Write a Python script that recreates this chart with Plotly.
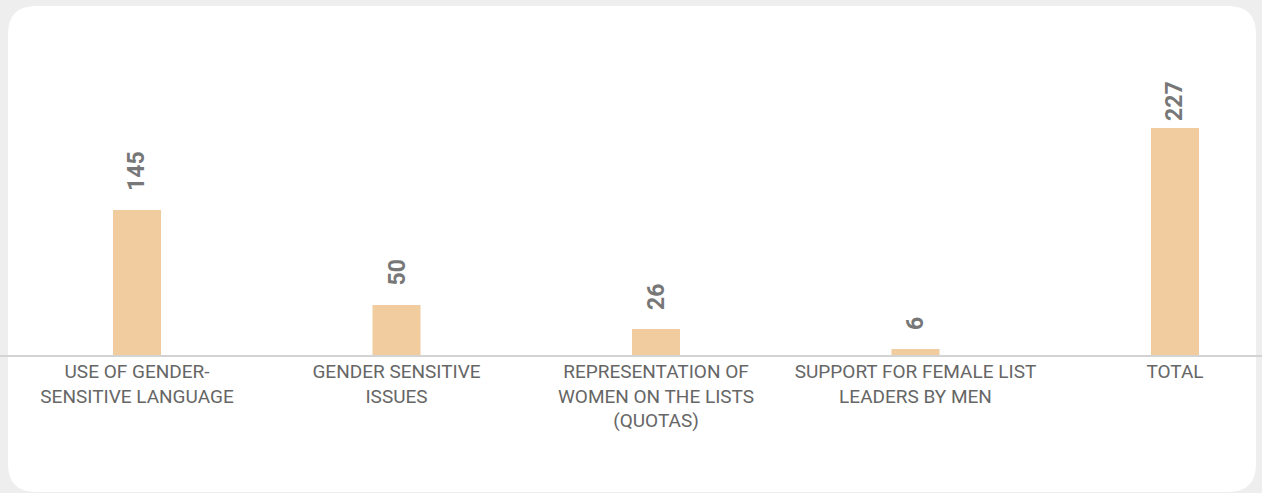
import plotly.graph_objects as go

# Gender-related topics and how often each was addressed
categories = [
    "USE OF GENDER-<br>SENSITIVE LANGUAGE",
    "GENDER SENSITIVE<br>ISSUES",
    "REPRESENTATION OF<br>WOMEN ON THE LISTS<br>(QUOTAS)",
    "SUPPORT FOR FEMALE LIST<br>LEADERS BY MEN",
    "TOTAL",
]
counts = [145, 50, 26, 6, 227]

W, H = 1262, 493
BAR_COLOR = "#f0cc9e"
LABEL_COLOR = "#666666"
VALUE_COLOR = "#777777"
FONT = "Roboto, Arial, sans-serif"

# Value labels float ~17px over their bar, but are held down near the
# top edge of the card so the tallest one stays inside.
LABEL_GAP = 17
LABEL_CEILING_PX = 82      # highest pixel row a value label may reach
LABEL_LEN_PX = 41          # rotated 3-digit label length
AXIS_PX = 355              # pixel row of the baseline
PX_PER_UNIT = 1.0

positions = list(range(len(categories)))

fig = go.Figure(
    go.Bar(
        x=positions,
        y=counts,
        width=0.185,
        marker=dict(color=BAR_COLOR, line=dict(width=0)),
        hoverinfo="skip",
    )
)

for xi, v in zip(positions, counts):
    bar_top = AXIS_PX - v * PX_PER_UNIT
    room = bar_top - LABEL_CEILING_PX - LABEL_LEN_PX
    shift = max(4, min(LABEL_GAP, room))
    fig.add_annotation(
        x=xi, y=v, xref="x", yref="y",
        text=f"<b>{v}</b>", textangle=-90,
        showarrow=False, yanchor="bottom", xanchor="center",
        yshift=shift,
        font=dict(family=FONT, size=23, color=VALUE_COLOR),
    )


def px(x, y):
    return x / W, 1 - y / H


def card_path(l, t, r, b, rad):
    pts = []

    def P(cmd, x, y):
        fx, fy = px(x, y)
        pts.append(f"{cmd}{fx:.5f},{fy:.5f}")

    def Q(cx, cy, x, y):
        fx1, fy1 = px(cx, cy)
        fx2, fy2 = px(x, y)
        pts.append(f"Q{fx1:.5f},{fy1:.5f} {fx2:.5f},{fy2:.5f}")

    P("M", l + rad, t)
    P("L", r - rad, t)
    Q(r, t, r, t + rad)
    P("L", r, b - rad)
    Q(r, b, r - rad, b)
    P("L", l + rad, b)
    Q(l, b, l, b - rad)
    P("L", l, t + rad)
    Q(l, t, l + rad, t)
    pts.append("Z")
    return " ".join(pts)


fig.add_shape(
    type="path", xref="paper", yref="paper",
    path=card_path(8, 6, 1256, 492, 28),
    fillcolor="#ffffff", line=dict(width=0), layer="below",
)

# Category spacing of ~259.5 px, first bar centred at x=137
step = 259.5
r0 = -137 / step
r1 = r0 + W / step

fig.update_layout(
    width=W, height=H,
    margin=dict(l=0, r=0, t=0, b=0),
    paper_bgcolor="#eeeeee",
    plot_bgcolor="rgba(0,0,0,0)",
    showlegend=False,
    font=dict(family=FONT, color=LABEL_COLOR),
    xaxis=dict(
        range=[r0, r1], domain=[0, 1],
        tickmode="array", tickvals=positions, ticktext=categories,
        tickfont=dict(family=FONT, size=19, color=LABEL_COLOR),
        ticks="", ticklabelstandoff=-2,
        showline=True, linecolor="#d3d3d3", linewidth=2,
        showgrid=False, zeroline=False, fixedrange=True,
    ),
    yaxis=dict(
        range=[0, 250],
        domain=[(H - AXIS_PX) / H, (H - AXIS_PX + 250 * PX_PER_UNIT) / H],
        visible=False, showgrid=False, zeroline=False, fixedrange=True,
    ),
)

fig.write_html("out.html", config={"displayModeBar": False})
